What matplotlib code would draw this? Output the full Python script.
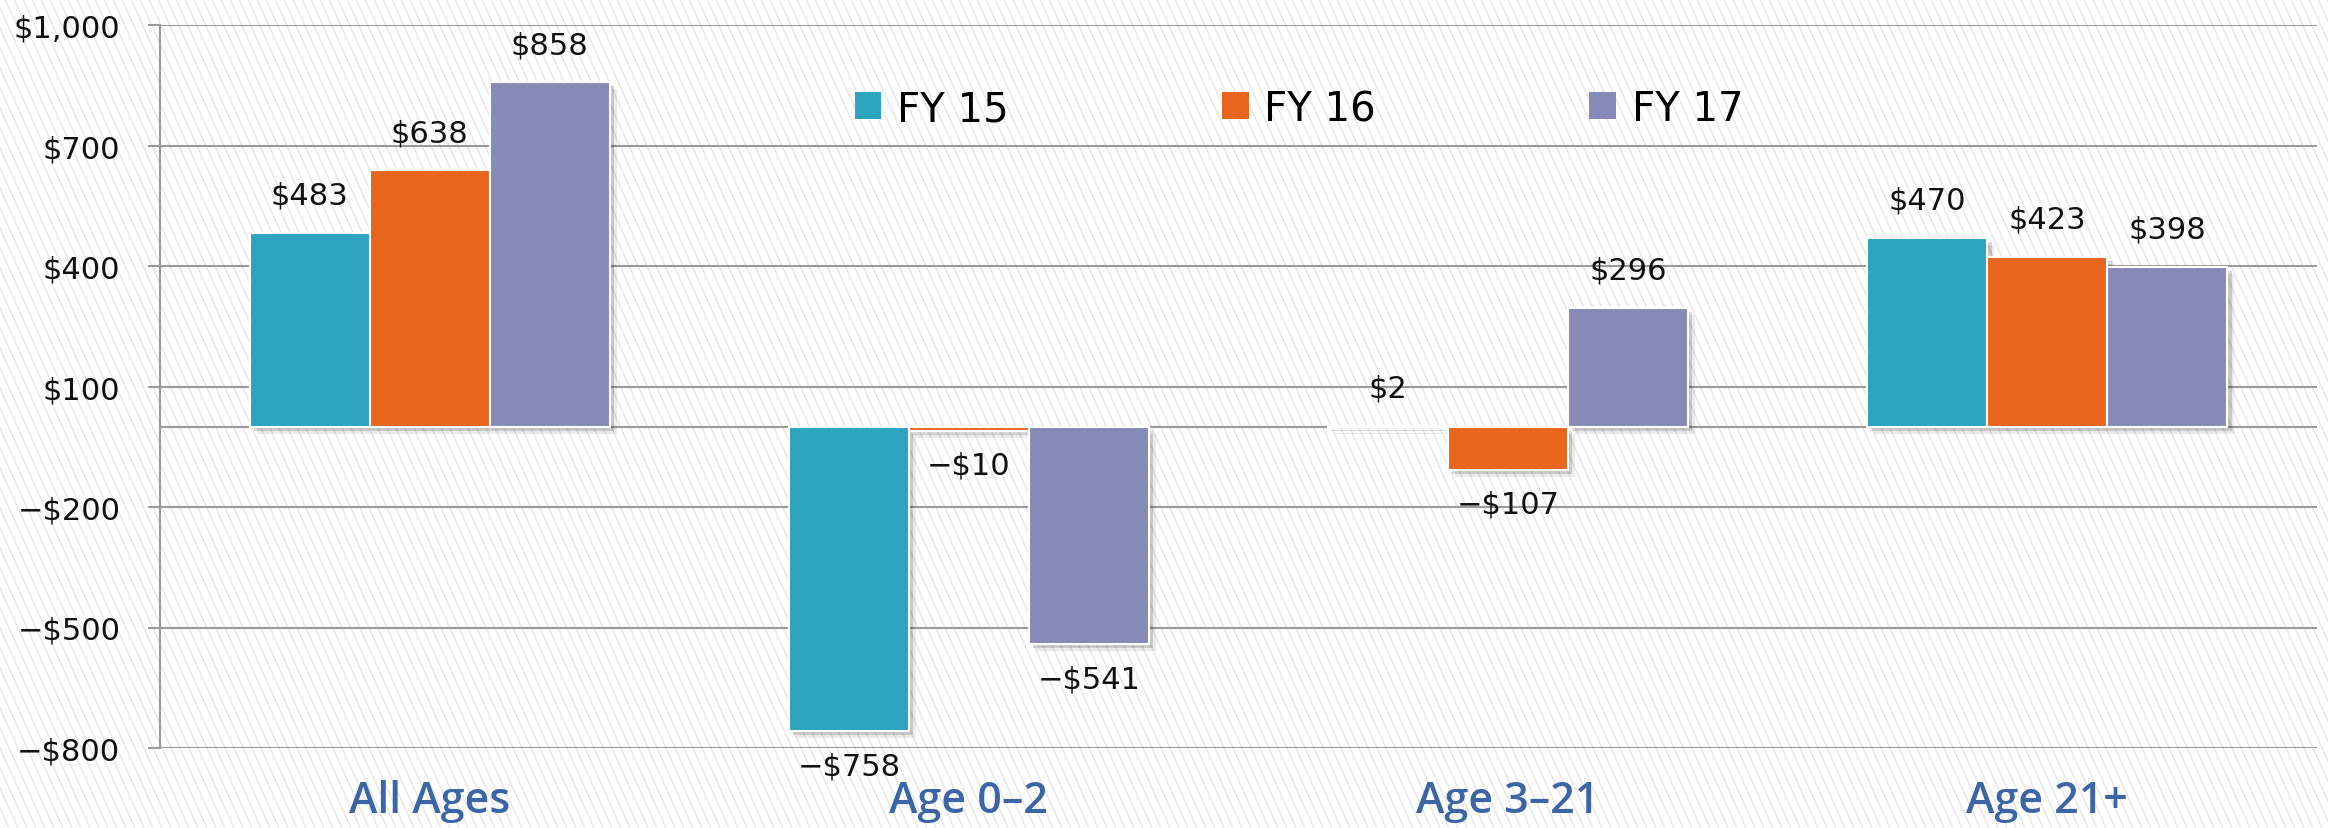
import numpy as np
import matplotlib
matplotlib.use("Agg")
import matplotlib.pyplot as plt
import matplotlib.patheffects as pe
from matplotlib.collections import LineCollection
from matplotlib.patches import Patch

# --- data ---
categories = ["All Ages", "Age 0\u20132", "Age 3\u201321", "Age 21+"]
series = ["FY 15", "FY 16", "FY 17"]
fy15 = [483, -758, 2, 470]
fy16 = [638, -10, -107, 423]
fy17 = [858, -541, 296, 398]
colors = ["#2EA3C0", "#E8651E", "#878AB7"]
yticks = [-800, -500, -200, 100, 400, 700, 1000]


def money(v):
    s = f"${abs(v):,.0f}"
    return "\u2212" + s if v < 0 else s


W, H = 23.28, 8.29
fig = plt.figure(figsize=(W, H), dpi=100)
fig.patch.set_facecolor("white")

# diagonal striped background over the whole figure
k = 0.45        # horizontal drift per unit of height
step = 0.09     # spacing between stripes (inches)
starts = np.arange(-H * k - step, W + step, step)
segs = [[(c, H), (c + H * k, 0)] for c in starts]
stripes = LineCollection(segs, colors="#e6e6e6", linewidths=1.0,
                         transform=fig.dpi_scale_trans, zorder=-10)
fig.add_artist(stripes)

ax = fig.add_axes([160 / 2328, 1 - 749 / 829, 2157 / 2328, 723 / 829])
ax.set_facecolor("none")

x = np.arange(len(categories))
w = 0.2226
shadow = [pe.SimplePatchShadow(offset=(5, -5), shadow_rgbFace="#000000", alpha=0.08),
          pe.SimplePatchShadow(offset=(3, -3), shadow_rgbFace="#000000", alpha=0.15),
          pe.Normal()]

for i, (vals, col) in enumerate(zip([fy15, fy16, fy17], colors)):
    xs = x + (i - 1) * w
    bars = ax.bar(xs, vals, width=w, color=col, edgecolor="white",
                  linewidth=1.5, zorder=3, label=series[i])
    for b in bars:
        b.set_path_effects(shadow)
    for xi, v in zip(xs, vals):
        off = 27 if v >= 0 else -25
        ax.annotate(money(v), (xi, v), xytext=(0, off), textcoords="offset points",
                    ha="center", va="center", fontsize=22, color="#111111",
                    family="DejaVu Sans", zorder=5)

grid_c = "#9a9a9a"
ax.set_ylim(-800, 1000)
ax.set_xlim(-0.5, len(categories) - 0.5)
ax.set_yticks(yticks)
ax.set_yticklabels([money(t) for t in yticks], fontsize=22, family="DejaVu Sans")
ax.yaxis.grid(True, color=grid_c, linewidth=1.5, zorder=1)
ax.axhline(0, color=grid_c, linewidth=1.5, zorder=1)
ax.set_axisbelow(True)
ax.tick_params(axis="y", length=8.6, width=1.5, color=grid_c, pad=20, labelcolor="#111111")
ax.set_xticks(x)
ax.set_xticklabels(categories, fontsize=31, family="Open Sans", fontweight="semibold",
                   color="#3B65A5")
ax.tick_params(axis="x", length=0, pad=22)
for side in ["top", "right", "bottom"]:
    ax.spines[side].set_visible(False)
ax.spines["left"].set_color(grid_c)
ax.spines["left"].set_linewidth(1.5)

handles = [Patch(facecolor=c, edgecolor="none") for c in colors]
leg = fig.legend(handles, series, loc="center", bbox_to_anchor=(1299 / 2328, 1 - 110 / 829),
                 ncol=3, frameon=False, prop={"family": "DejaVu Sans", "size": 29},
                 handlelength=0.66, handleheight=0.66, handletextpad=0.39,
                 columnspacing=5.3, borderpad=0)

fig.savefig("out.png", dpi=100)
